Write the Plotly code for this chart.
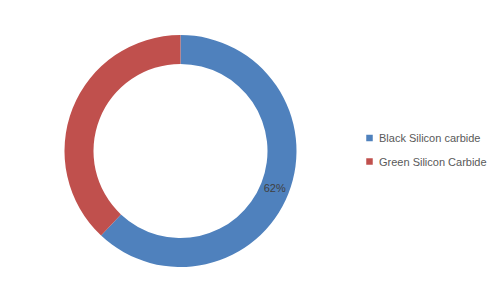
import plotly.graph_objects as go

labels = ["Black Silicon carbide", "Green Silicon Carbide"]
values = [62, 38]
colors = ["#4F81BD", "#C0504D"]
shown_text = ["62%", ""]

W, H = 500, 301
cx, cy, r = 180.5, 151, 116

fig = go.Figure(go.Pie(
    labels=labels,
    values=values,
    text=shown_text,
    textinfo="text",
    textposition="inside",
    insidetextorientation="horizontal",
    hole=0.75,
    sort=False,
    direction="clockwise",
    rotation=0,
    marker=dict(colors=colors, line=dict(width=0)),
    textfont=dict(family="Liberation Sans, Arial, sans-serif", size=11, color="#404040"),
    domain=dict(x=[(cx - r) / W, (cx + r) / W], y=[(H - cy - r) / H, (H - cy + r) / H]),
    showlegend=False,
))

# manual legend (tight symbol-text spacing like the original)
leg_x, leg_y0, leg_dy, sq = 369.5, 138, 23.5, 6.5
for i, (lab, col) in enumerate(zip(labels, colors)):
    yc = leg_y0 + i * leg_dy
    fig.add_shape(
        type="rect", xref="paper", yref="paper",
        x0=(leg_x - sq / 2) / W, x1=(leg_x + sq / 2) / W,
        y0=(H - yc - sq / 2) / H, y1=(H - yc + sq / 2) / H,
        fillcolor=col, line=dict(width=0),
    )
    fig.add_annotation(
        x=(leg_x + 7.5) / W, y=(H - yc) / H, xref="paper", yref="paper",
        text=lab, showarrow=False, xanchor="left", yanchor="middle",
        font=dict(family="Liberation Sans, Arial, sans-serif", size=11, color="#595959"),
    )

fig.update_layout(
    width=W, height=H,
    margin=dict(l=0, r=0, t=0, b=0),
    paper_bgcolor="white",
    plot_bgcolor="white",
    showlegend=False,
)

fig.write_html("out.html")
